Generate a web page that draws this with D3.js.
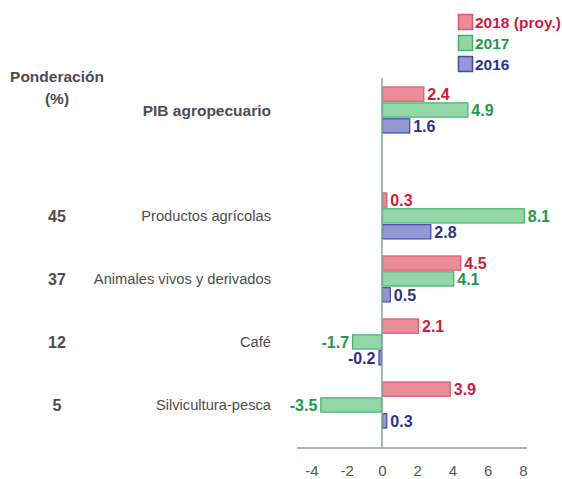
<!DOCTYPE html>
<html>
<head>
<meta charset="utf-8">
<script src="https://cdn.jsdelivr.net/npm/d3@7"></script>
<style>
  html, body { margin: 0; padding: 0; background: #fff; }
  svg { display: block; }
  text { font-family: "Liberation Sans", Arial, sans-serif; }
</style>
</head>
<body>
<svg id="chart" width="562" height="479"></svg>
<script>
// Crecimiento anual (%) del PIB agropecuario y sus componentes
const categories = ["PIB agropecuario", "Productos agrícolas", "Animales vivos y derivados", "Café", "Silvicultura-pesca"];
const weights = ["", "45", "37", "12", "5"];
const seriesNames = ["2018 (proy.)", "2017", "2016"];
const values2018 = [2.4, 0.3, 4.5, 2.1, 3.9];
const values2017 = [4.9, 8.1, 4.1, -1.7, -3.5];
const values2016 = [1.6, 2.8, 0.5, -0.2, 0.3];
const xTicks = [-4, -2, 0, 2, 4, 6, 8];

const seriesValues = [values2018, values2017, values2016];
const fills = ["#ec8c99", "#93d6a8", "#9497d6"];
const strokes = ["#d9596d", "#43b36b", "#4347a6"];
const textColors = ["#d41a3c", "#1f9a4b", "#2d3190"];

// Plain hyphen for negative numbers
const locale = d3.formatLocale({ decimal: ".", thousands: ",", grouping: [3], currency: ["", ""], minus: "-" });
const fmtTick = locale.format("d");
const fmtValue = locale.format(".1f");

const svg = d3.select("#chart");

// Horizontal value scale
const x = d3.scaleLinear().domain([-4, 8]).range([311.5, 523]);

// Row positions: the total row sits apart from its components
const rowIndex = categories.map((c, i) => i === 0 ? 0 : i + 0.68);
const y = d3.scaleLinear().domain([0, 4.68]).range([110, 405]);

// Position of each series inside a row
const inner = d3.scaleBand().domain(seriesNames).range([-23.5, 23.5]).paddingInner(0.04);

// Value axis
const axisY = 448;
const axisG = svg.append("g").attr("transform", `translate(0,${axisY})`)
  .call(d3.axisBottom(x).tickValues(xTicks).tickSize(0).tickPadding(17).tickFormat(fmtTick));
axisG.select(".domain").remove();
axisG.selectAll("text")
  .attr("font-family", "Liberation Sans, sans-serif")
  .attr("font-size", 15)
  .attr("fill", "#555");
svg.append("line")
  .attr("x1", 297).attr("x2", 527)
  .attr("y1", axisY).attr("y2", axisY)
  .attr("stroke", "#7fa9a2").attr("stroke-width", 1.5);

// Bars
const rows = svg.append("g").selectAll("g")
  .data(categories)
  .join("g")
  .attr("transform", (d, i) => `translate(0,${y(rowIndex[i])})`);

seriesNames.forEach((s, k) => {
  rows.append("rect")
    .attr("x", (d, i) => x(Math.min(0, seriesValues[k][i])) + 0.5)
    .attr("y", inner(s) + 0.5)
    .attr("width", (d, i) => Math.max(1, Math.abs(x(seriesValues[k][i]) - x(0)) - 1))
    .attr("height", inner.bandwidth() - 1)
    .attr("fill", fills[k])
    .attr("stroke", strokes[k])
    .attr("stroke-width", 1.2);

  rows.append("text")
    .attr("x", (d, i) => seriesValues[k][i] < 0 ? x(seriesValues[k][i]) - 3 : x(seriesValues[k][i]) + 3)
    .attr("y", inner(s) + inner.bandwidth() / 2)
    .attr("dy", "0.36em")
    .attr("text-anchor", (d, i) => seriesValues[k][i] < 0 ? "end" : "start")
    .attr("font-size", 16)
    .attr("font-weight", "bold")
    .attr("fill", textColors[k])
    .text((d, i) => fmtValue(seriesValues[k][i]));
});

// Zero line
svg.append("line")
  .attr("x1", x(0)).attr("x2", x(0))
  .attr("y1", 78).attr("y2", axisY)
  .attr("stroke", "#7fa9a2").attr("stroke-width", 1.5);

// Category labels
rows.append("text")
  .attr("x", 271)
  .attr("dy", "0.36em")
  .attr("text-anchor", "end")
  .attr("font-size", (d, i) => i === 0 ? 15.5 : 14.7)
  .attr("font-weight", (d, i) => i === 0 ? "bold" : "normal")
  .attr("fill", "#4d4d4d")
  .text(d => d);

// Weights column
rows.append("text")
  .attr("x", 57)
  .attr("dy", "0.36em")
  .attr("text-anchor", "middle")
  .attr("font-size", 16)
  .attr("font-weight", "bold")
  .attr("fill", "#4d4d4d")
  .text((d, i) => weights[i]);

const head = svg.append("text")
  .attr("text-anchor", "middle")
  .attr("font-size", 15.5)
  .attr("font-weight", "bold")
  .attr("fill", "#4d4d4d");
head.append("tspan").attr("x", 57).attr("y", 82).text("Ponderación");
head.append("tspan").attr("x", 57).attr("y", 104).text("(%)");

// Legend
const legend = svg.append("g").attr("transform", "translate(458,14)");
seriesNames.forEach((s, k) => {
  const g = legend.append("g").attr("transform", `translate(0,${k * 21})`);
  g.append("rect")
    .attr("x", 0.5).attr("y", 0.5)
    .attr("width", 14).attr("height", 15)
    .attr("fill", fills[k]).attr("stroke", strokes[k]).attr("stroke-width", 1.5);
  g.append("text")
    .attr("x", 17).attr("y", 8)
    .attr("dy", "0.36em")
    .attr("font-size", 15.5)
    .attr("font-weight", "bold")
    .attr("fill", textColors[k])
    .text(s);
});
</script>
</body>
</html>
